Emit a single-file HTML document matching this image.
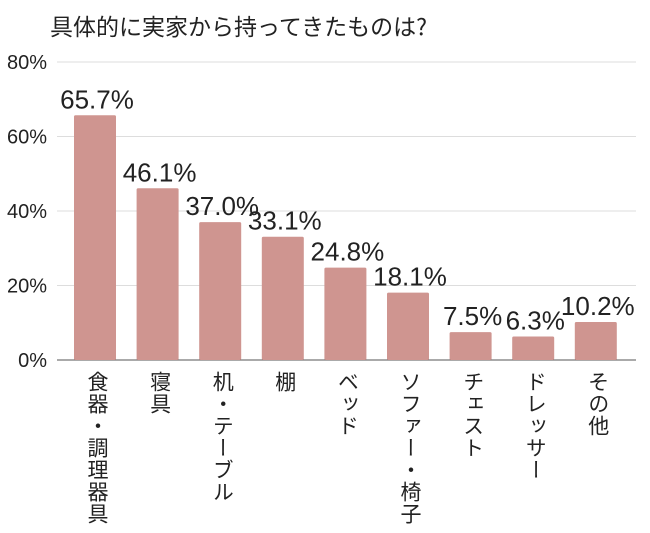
<!DOCTYPE html>
<html><head><meta charset="utf-8"><style>
body{margin:0;background:#fff;width:650px;height:533px;overflow:hidden;font-family:"Liberation Sans","Noto Sans CJK JP",sans-serif;}
#c{position:absolute;left:0;top:0;}
.cat{position:absolute;top:371px;writing-mode:vertical-rl;font-size:21px;letter-spacing:1px;color:#222;font-family:"Noto Sans CJK JP",sans-serif;line-height:1;}
</style></head><body>
<div style="position:absolute;left:50px;top:12px;font-size:23px;color:#222;font-family:'Noto Sans CJK JP',sans-serif;line-height:1.2;">具体的に実家から持ってきたものは?</div>
<svg id="c" width="650" height="533"></svg>
<div id="cats"></div>
<script>
const categories=["食器・調理器具","寝具","机・テーブル","棚","ベッド","ソファー・椅子","チェスト","ドレッサー","その他"];
const values=[65.7,46.1,37.0,33.1,24.8,18.1,7.5,6.3,10.2];
const ticks=[0,20,40,60,80];
const svg=document.getElementById('c');const NS='http://www.w3.org/2000/svg';
const y0=360,yTop=62,vmax=80,x0=57,x1=636,step=62.6,firstC=95,bw=42;
const y=v=>y0-(v/vmax)*(y0-yTop);
const xc=i=>firstC+i*step;
function mk(t,a){const e=document.createElementNS(NS,t);for(const k in a)e.setAttribute(k,a[k]);svg.appendChild(e);return e;}
ticks.forEach(t=>{
 const l=mk('line',{x1:x0,x2:x1,y1:y(t),y2:y(t),stroke:t===0?'#555':'#ddd','stroke-width':1});
 
 
 const tx=mk('text',{x:47,y:y(t)+7,'text-anchor':'end','font-size':20,fill:'#222','font-family':'Liberation Sans, sans-serif'});
 tx.textContent=t+'%';
 
 
});
const cd=document.getElementById('cats');
values.forEach((v,i)=>{
 const r=mk('rect',{x:xc(i)-bw/2,y:y(v),width:bw,height:y0-y(v),fill:'#cf9590',rx:1.5});
 
 
 const t=mk('text',{x:xc(i)+2,y:y(v)-7,'text-anchor':'middle','font-size':26,fill:'#222','font-family':'Liberation Sans, sans-serif'});
 t.textContent=v.toFixed(1)+'%';
 
 
 const d=document.createElement('div');d.className='cat';d.textContent=categories[i];
 d.style.left=(xc(i)-8)+'px';
 
 
 cd.appendChild(d);
});
</script>
</body></html>
